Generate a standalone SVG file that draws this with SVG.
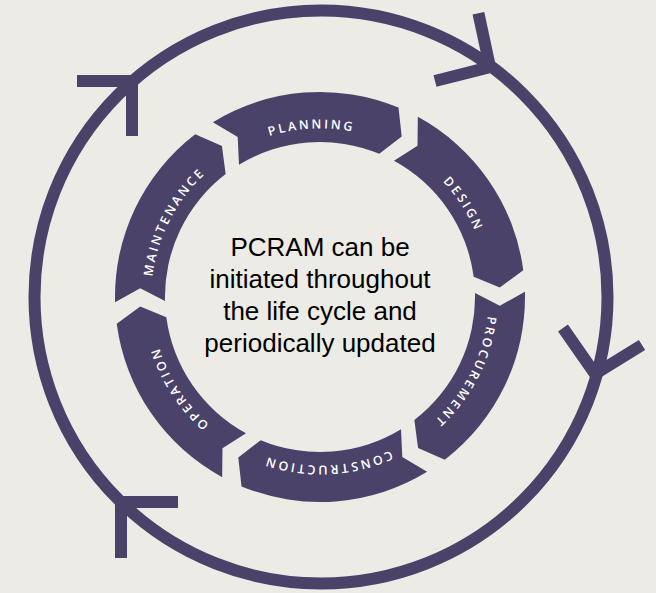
<svg xmlns="http://www.w3.org/2000/svg" width="656" height="593" viewBox="0 0 656 593">
<style>
.bg{fill:#ecebe6}
.seg{fill:#4a4268}
.ring{fill:none;stroke:#4a4268;stroke-width:12;stroke-linejoin:miter;stroke-linecap:butt}
.lbl{font-family:"Open Sans","DejaVu Sans",sans-serif;font-weight:600;font-size:12.5px;letter-spacing:2.6px;fill:#ffffff}
.ctr{font-family:"Liberation Sans",Arial,sans-serif;font-size:26px;fill:#000000;text-anchor:middle}
</style>
<defs>
<path id="seg" d="M212.9,122.2 A205,205 0 0 1 398.5,107.6 L401.7,136.6 L379.3,153.8 A155,155 0 0 0 239.0,164.8 L237.7,136.9 Z"/>
<path id="tp" d="M185.8,194.6 A168,168 0 0 1 442.9,182.4" fill="none"/>
</defs>
<rect class="bg" x="0" y="0" width="656" height="593"/>
<g id="connectors">
<circle class="ring" cx="321" cy="297" r="286.5"/>
<polyline class="ring" points="77,81 132,81 132,136"/>
<polyline class="ring" points="478.4,13.2 490,67 435,81"/>
<polyline class="ring" points="563,328 595,374 642,345"/>
<polyline class="ring" points="178,502 121,502 121,558"/>
</g>
<g id="planning" transform="rotate(0 320 297)">
<use href="#seg" class="seg"/>
<text class="lbl"><textPath href="#tp" startOffset="50%" text-anchor="middle">PLANNING</textPath></text>
</g>
<g id="design" transform="rotate(60 320 297)">
<use href="#seg" class="seg"/>
<text class="lbl"><textPath href="#tp" startOffset="50%" text-anchor="middle">DESIGN</textPath></text>
</g>
<g id="procurement" transform="rotate(120 320 297)">
<use href="#seg" class="seg"/>
<text class="lbl"><textPath href="#tp" startOffset="50%" text-anchor="middle">PROCUREMENT</textPath></text>
</g>
<g id="construction" transform="rotate(180 320 297)">
<use href="#seg" class="seg"/>
<text class="lbl"><textPath href="#tp" startOffset="50%" text-anchor="middle">CONSTRUCTION</textPath></text>
</g>
<g id="operation" transform="rotate(240 320 297)">
<use href="#seg" class="seg"/>
<text class="lbl"><textPath href="#tp" startOffset="50%" text-anchor="middle">OPERATION</textPath></text>
</g>
<g id="maintenance" transform="rotate(300 320 297)">
<use href="#seg" class="seg"/>
<text class="lbl"><textPath href="#tp" startOffset="50%" text-anchor="middle">MAINTENANCE</textPath></text>
</g>
<g id="center-text">
<text class="ctr" x="320" y="256">PCRAM can be</text>
<text class="ctr" x="320" y="288">initiated throughout</text>
<text class="ctr" x="320" y="320">the life cycle and</text>
<text class="ctr" x="320" y="352">periodically updated</text>
</g>
</svg>
